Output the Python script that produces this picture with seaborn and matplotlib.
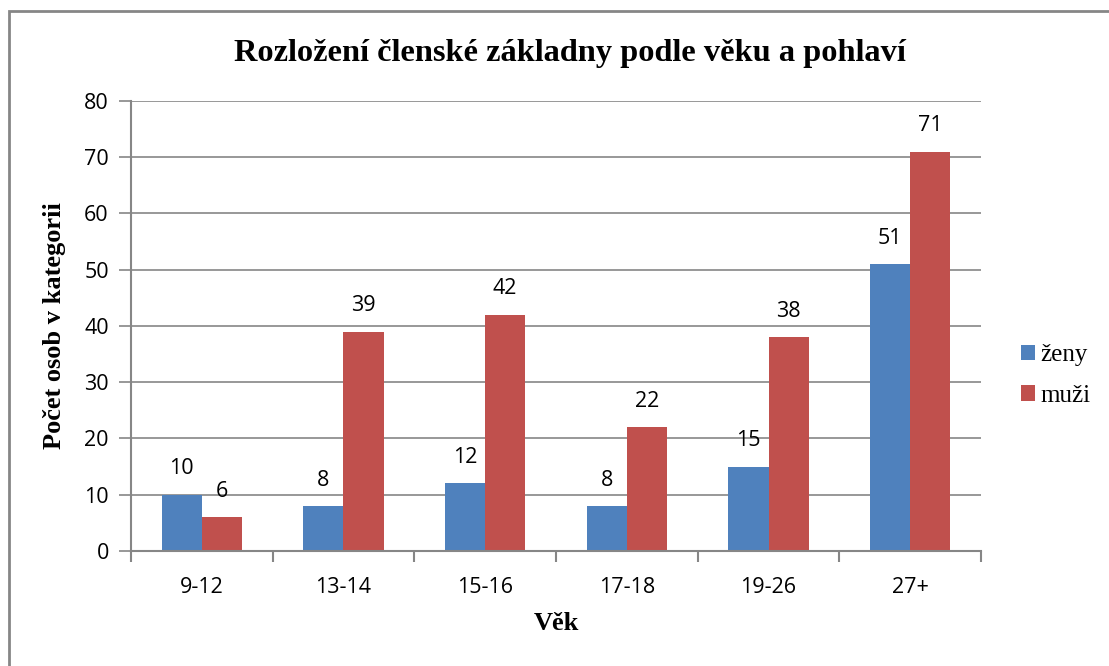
import pandas as pd
import matplotlib.pyplot as plt
import seaborn as sns
from matplotlib.patches import Rectangle

# Data
vek = ['9-12', '13-14', '15-16', '17-18', '19-26', '27+']
zeny = [10, 8, 12, 8, 15, 51]
muzi = [6, 39, 42, 22, 38, 71]
skupiny = ['ženy', 'muži']
barvy = ['#4F81BD', '#C0504D']

df = pd.DataFrame({
    'vek': vek * 2,
    'pocet': zeny + muzi,
    'pohlavi': [skupiny[0]] * len(vek) + [skupiny[1]] * len(vek),
})

sns.set_style("white")
plt.rcParams['text.color'] = 'black'
plt.rcParams['axes.labelcolor'] = 'black'
plt.rcParams['xtick.color'] = 'black'
plt.rcParams['ytick.color'] = 'black'
sans = ['Open Sans', 'DejaVu Sans']
serif = ['Liberation Serif', 'DejaVu Serif']
grey = '#868686'

fig = plt.figure(figsize=(11.09, 6.66), dpi=100)
ax = fig.add_axes([0.1181, 0.1727, 0.7665, 0.6757])

sns.barplot(data=df, x='vek', y='pocet', hue='pohlavi', palette=barvy,
            width=0.565, saturation=1, ax=ax, legend=True, edgecolor='none')

for cont in ax.containers:
    ax.bar_label(cont, padding=11, fontsize=15.5, family=sans, color='black')

ax.set_xlim(-0.5, len(vek) - 0.5)
ax.set_ylim(0, 80)
ax.set_yticks(range(0, 81, 10))
ax.yaxis.grid(True, color=grey, linewidth=1.2)
ax.set_axisbelow(True)

for s in ['top', 'right']:
    ax.spines[s].set_visible(False)
for s in ['left', 'bottom']:
    ax.spines[s].set_color(grey)
    ax.spines[s].set_linewidth(1.5)

ax.tick_params(axis='y', which='major', length=9, color=grey, width=1.2,
               labelsize=15.5, pad=7, left=True, labelcolor='black')
ax.set_xticks([i - 0.5 for i in range(len(vek) + 1)], minor=True)
ax.tick_params(axis='x', which='minor', length=8, color=grey, width=1.5, bottom=True)
ax.tick_params(axis='x', which='major', length=0, labelsize=15.5, pad=19,
               labelcolor='black')
for lab in ax.get_xticklabels() + ax.get_yticklabels():
    lab.set_family(sans)

ax.set_xlabel('Věk', fontsize=19, fontweight='bold', family=serif, labelpad=10)
ax.set_ylabel('Počet osob v kategorii', fontsize=19, fontweight='bold',
              family=serif, labelpad=13)

fig.text(0.514, 0.919, 'Rozložení členské základny podle věku a pohlaví',
         ha='center', va='center', fontsize=23.3, fontweight='bold', family=serif)

leg = ax.legend(loc='center left', bbox_to_anchor=(1.02, 0.39), frameon=False,
                prop={'family': serif, 'size': 18}, handlelength=0.56,
                handleheight=0.56, handletextpad=0.25, labelspacing=0.75)

# outer chart border
fig.patches.append(Rectangle((9 / 1109, -0.05), 1.2, 1 - 11 / 666 + 0.05,
                             transform=fig.transFigure, fill=False,
                             edgecolor=grey, linewidth=2, zorder=-1))

fig.savefig('out.png', dpi=100)
